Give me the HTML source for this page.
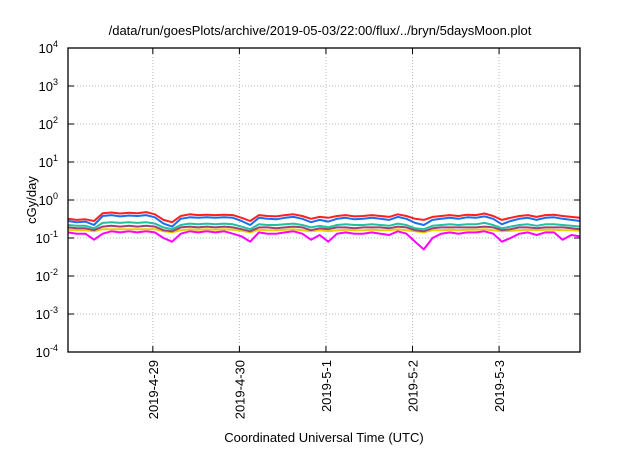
<!DOCTYPE html>
<html><head><meta charset="utf-8"><style>
body{margin:0;background:#fff;font-family:"Liberation Sans",Arial,sans-serif}
svg text{font-family:"Liberation Sans",Arial,sans-serif}
</style></head><body>
<svg id="c" width="640" height="448" xmlns="http://www.w3.org/2000/svg">
<text x="320" y="35" text-anchor="middle" font-size="13">/data/run/goesPlots/archive/2019-05-03/22:00/flux/../bryn/5daysMoon.plot</text>
<g id="grid"></g>
<g id="series"></g>
<rect x="68" y="48" width="512" height="304" fill="none" stroke="#000" stroke-width="1.3"/>
<g id="axes"></g>
<text transform="translate(36,200) rotate(-90)" text-anchor="middle" font-size="13">cGy/day</text>
<text x="324" y="442" text-anchor="middle" font-size="13">Coordinated Universal Time (UTC)</text>
</svg>
<script>
const xTickLabels=["2019-4-29","2019-4-30","2019-5-1","2019-5-2","2019-5-3"];
const xTickDays=[0,1,2,3,4];
const yTickExps=[4,3,2,1,0,-1,-2,-3,-4];
const red=[0.32,0.30,0.31,0.28,0.45,0.47,0.44,0.46,0.45,0.48,0.42,0.30,0.26,0.38,0.42,0.40,0.41,0.40,0.41,0.40,0.34,0.28,0.40,0.38,0.37,0.40,0.42,0.38,0.32,0.36,0.34,0.38,0.40,0.37,0.38,0.40,0.38,0.36,0.42,0.38,0.32,0.30,0.36,0.38,0.40,0.38,0.41,0.40,0.44,0.38,0.30,0.34,0.38,0.40,0.36,0.40,0.41,0.38,0.36,0.34];
const blue=[0.28,0.26,0.27,0.22,0.38,0.40,0.37,0.39,0.38,0.40,0.35,0.24,0.20,0.32,0.35,0.34,0.35,0.34,0.35,0.34,0.28,0.22,0.34,0.32,0.31,0.34,0.36,0.32,0.26,0.30,0.27,0.32,0.34,0.31,0.32,0.34,0.32,0.30,0.36,0.32,0.25,0.22,0.30,0.32,0.34,0.32,0.35,0.34,0.37,0.32,0.23,0.28,0.32,0.34,0.30,0.34,0.35,0.32,0.30,0.28];
const teal=[0.22,0.21,0.21,0.18,0.25,0.26,0.25,0.26,0.25,0.26,0.24,0.19,0.17,0.22,0.24,0.23,0.24,0.23,0.24,0.23,0.20,0.17,0.23,0.22,0.22,0.23,0.24,0.22,0.19,0.21,0.19,0.22,0.23,0.22,0.22,0.23,0.22,0.21,0.24,0.22,0.18,0.17,0.21,0.22,0.23,0.22,0.23,0.23,0.25,0.22,0.18,0.20,0.22,0.23,0.21,0.23,0.23,0.22,0.21,0.20];
const purple=[0.19,0.18,0.18,0.16,0.20,0.21,0.20,0.21,0.20,0.21,0.20,0.16,0.15,0.19,0.20,0.19,0.20,0.19,0.20,0.19,0.17,0.15,0.19,0.19,0.18,0.19,0.20,0.19,0.16,0.18,0.17,0.19,0.19,0.18,0.19,0.19,0.19,0.18,0.20,0.19,0.16,0.15,0.18,0.19,0.19,0.19,0.19,0.19,0.20,0.19,0.16,0.17,0.19,0.19,0.18,0.19,0.19,0.19,0.18,0.17];
const yellow=[0.165,0.16,0.16,0.15,0.17,0.17,0.17,0.17,0.17,0.17,0.17,0.15,0.14,0.16,0.17,0.165,0.17,0.165,0.17,0.165,0.155,0.14,0.165,0.16,0.16,0.165,0.17,0.16,0.15,0.16,0.15,0.16,0.165,0.16,0.16,0.165,0.16,0.16,0.17,0.16,0.15,0.14,0.16,0.16,0.165,0.16,0.165,0.165,0.17,0.16,0.15,0.155,0.16,0.165,0.16,0.165,0.165,0.16,0.16,0.155];
const magenta=[0.14,0.13,0.13,0.09,0.13,0.15,0.14,0.15,0.14,0.15,0.14,0.10,0.08,0.13,0.15,0.14,0.15,0.14,0.15,0.13,0.11,0.08,0.14,0.13,0.13,0.14,0.15,0.13,0.09,0.12,0.08,0.13,0.14,0.13,0.13,0.14,0.13,0.12,0.15,0.13,0.08,0.05,0.10,0.13,0.14,0.13,0.14,0.14,0.15,0.13,0.08,0.10,0.13,0.14,0.12,0.14,0.14,0.09,0.12,0.11];
const L=68,R=580,T=48,B=352,D0=-0.98,D1=4.935;
const xs=d=>L+(d-D0)/(D1-D0)*(R-L);
const ys=v=>T+(4-Math.log10(v))/8*(B-T);
const NS="http://www.w3.org/2000/svg";
const mk=(t,a,p)=>{const e=document.createElementNS(NS,t);for(const k in a)e.setAttribute(k,a[k]);p.appendChild(e);return e;};
const grid=document.getElementById('grid'),axes=document.getElementById('axes'),ser=document.getElementById('series');
yTickExps.forEach(ex=>{
  const y=ys(Math.pow(10,ex));
  if(ex<4&&ex>-4){const g=mk('line',{x1:L,x2:R,y1:y,y2:y,stroke:'#bbb','stroke-dasharray':'1,2'},grid);
  
  }
  const tk=mk('path',{d:`M${L} ${y}h6M${R} ${y}h-6`,stroke:'#000'},axes);
  
  
  const t=mk('text',{x:L-10,y:y+5,'text-anchor':'end','font-size':'13'},axes);
  
  
  t.textContent='10';
  const s=mk('tspan',{dy:-6,'font-size':'9'},t);s.textContent=String(ex);
});
xTickDays.forEach((d,i)=>{
  const x=xs(d);
  const g=mk('line',{x1:x,x2:x,y1:T,y2:B,stroke:'#bbb','stroke-dasharray':'1,2'},grid);
  
  
  const tk=mk('path',{d:`M${x} ${B}v-6M${x} ${T}v6`,stroke:'#000'},axes);
  
  
  const t=mk('text',{transform:`translate(${x+5},${B+8}) rotate(-90)`,'text-anchor':'end','font-size':'13'},axes);
  
  
  t.textContent=xTickLabels[i];
});
[[magenta,'#ff00ff','magenta'],[yellow,'#e8d000','yellow'],[purple,'#a0407a','purple'],[teal,'#20c0a0','teal'],[red,'#ff2020','red'],[blue,'#1a6ef0','blue']].forEach(([arr,c,n])=>{
  const pts=arr.map((v,i)=>xs(D0+i*(D1-D0)/(arr.length-1)).toFixed(1)+','+ys(v).toFixed(1)).join(' ');
  const p=mk('polyline',{points:pts,fill:'none',stroke:c,'stroke-width':2,'stroke-linejoin':'round'},ser);
  
  
});
</script>
</body></html>
